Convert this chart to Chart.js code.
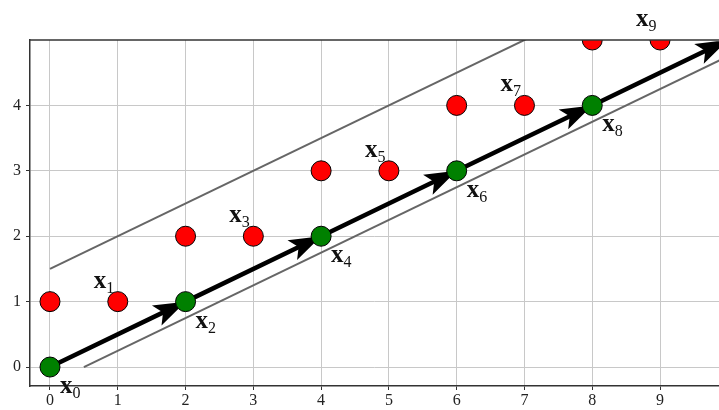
<!DOCTYPE html>
<html>
<head>
<meta charset="utf-8">
<script src="https://cdn.jsdelivr.net/npm/chart.js@4"></script>
<style>
	html, body { margin: 0; padding: 0; background: #ffffff; }
	#wrap { width: 719px; height: 410px; }
</style>
</head>
<body>
<div id="wrap"><canvas id="chart" width="719" height="410"></canvas></div>
<script>
// Data
const redX = [0, 1, 2, 3, 4, 5, 6, 7, 8, 9];
const redY = [1, 1, 2, 2, 3, 3, 4, 4, 5, 5];
const greenX = [0, 2, 4, 6, 8];
const greenY = [0, 1, 2, 3, 4];
const pathX = [0, 2, 4, 6, 8, 10];
const pathY = [0, 1, 2, 3, 4, 5];
const upperX = [0, 10];
const upperY = [1.5, 6.5];
const lowerX = [0.5, 10];
const lowerY = [0, 4.75];
const xTicks = [0, 1, 2, 3, 4, 5, 6, 7, 8, 9];
const yTicks = [0, 1, 2, 3, 4];
// subscripts of the point labels (even: green point, odd: red point)
const labelNames = ['0', '1', '2', '3', '4', '5', '6', '7', '8', '9'];

function toPoints(xs, ys) {
	return xs.map((x, i) => ({ x: x, y: ys[i] }));
}

// Arrowheads at the end of each path segment
const arrowHeads = {
	id: 'arrowHeads',
	afterDatasetDraw(chart, args) {
		if (args.index !== 2) return;
		const ctx = chart.ctx;
		const xs = chart.scales.x, ys = chart.scales.y;
		const area = chart.chartArea;
		ctx.save();
		ctx.beginPath();
		ctx.rect(area.left, area.top, area.right - area.left, area.bottom - area.top);
		ctx.clip();
		ctx.fillStyle = '#000000';
		for (let i = 1; i < pathX.length; i++) {
			const x0 = xs.getPixelForValue(pathX[i - 1]), y0 = ys.getPixelForValue(pathY[i - 1]);
			const x1 = xs.getPixelForValue(pathX[i]), y1 = ys.getPixelForValue(pathY[i]);
			const a = Math.atan2(y1 - y0, x1 - x0);
			const len = 32, half = 11;
			const bx = x1 - len * Math.cos(a), by = y1 - len * Math.sin(a);
			const ix = x1 - (len - 7) * Math.cos(a), iy = y1 - (len - 7) * Math.sin(a);
			ctx.beginPath();
			ctx.moveTo(x1, y1);
			ctx.lineTo(bx + half * Math.sin(a), by - half * Math.cos(a));
			ctx.lineTo(ix, iy);
			ctx.lineTo(bx - half * Math.sin(a), by + half * Math.cos(a));
			ctx.closePath();
			ctx.fill();
		}
		ctx.restore();
	}
};

// Top spine and point labels
const extras = {
	id: 'extras',
	afterDraw(chart) {
		const ctx = chart.ctx;
		const area = chart.chartArea;
		const xs = chart.scales.x, ys = chart.scales.y;
		ctx.save();
		ctx.strokeStyle = '#333333';
		ctx.lineWidth = 1.5;
		ctx.beginPath();
		ctx.moveTo(area.left, area.top);
		ctx.lineTo(area.right, area.top);
		ctx.stroke();

		ctx.fillStyle = '#111111';
		ctx.textBaseline = 'alphabetic';
		labelNames.forEach((name, i) => {
			let px, py;
			if (i % 2 === 0) {
				px = xs.getPixelForValue(greenX[i / 2]) + 10;
				py = ys.getPixelForValue(greenY[i / 2]) + 26;
			} else {
				px = xs.getPixelForValue(redX[i]) - 24;
				py = ys.getPixelForValue(redY[i]) - 14;
			}
			ctx.font = 'bold 25px "Liberation Serif"';
			ctx.fillText('x', px, py);
			const w = ctx.measureText('x').width;
			ctx.font = '16px "Liberation Serif"';
			ctx.fillText(name, px + w, py + 5);
		});
		ctx.restore();
	}
};

const ctx = document.getElementById('chart').getContext('2d');
new Chart(ctx, {
	type: 'scatter',
	data: {
		datasets: [
			{
				label: 'red',
				data: toPoints(redX, redY),
				backgroundColor: '#ff0000',
				borderColor: '#000000',
				borderWidth: 1,
				pointRadius: 10,
				clip: 0,
				order: 0
			},
			{
				label: 'green',
				data: toPoints(greenX, greenY),
				backgroundColor: '#008000',
				borderColor: '#000000',
				borderWidth: 1,
				pointRadius: 10,
				clip: 0,
				order: 0
			},
			{
				label: 'path',
				data: toPoints(pathX, pathY),
				showLine: true,
				borderColor: '#000000',
				borderWidth: 4.5,
				pointRadius: 0,
				clip: 0,
				order: 1
			},
			{
				label: 'upper',
				data: toPoints(upperX, upperY),
				showLine: true,
				borderColor: '#666666',
				borderWidth: 2,
				pointRadius: 0,
				clip: 0,
				order: 2
			},
			{
				label: 'lower',
				data: toPoints(lowerX, lowerY),
				showLine: true,
				borderColor: '#666666',
				borderWidth: 2,
				pointRadius: 0,
				clip: 0,
				order: 2
			}
		]
	},
	options: {
		responsive: false,
		animation: false,
		layout: { autoPadding: false, padding: { top: 40, right: 0, left: 0, bottom: 0 } },
		plugins: {
			legend: { display: false },
			tooltip: { enabled: false }
		},
		scales: {
			x: {
				type: 'linear',
				min: -0.295,
				max: 9.87,
				afterBuildTicks: (scale) => { scale.ticks = xTicks.map(v => ({ value: v })); },
				afterFit: (scale) => {
					scale.height = 24;
					scale.paddingLeft = 0;
					scale.paddingRight = 0;
				},
				ticks: {
					color: '#222222',
					font: { family: 'Liberation Serif', size: 16 },
					padding: 1,
					maxRotation: 0
				},
				grid: {
					color: '#c8c8c8',
					lineWidth: 1,
					tickLength: 4,
					tickColor: '#333333'
				},
				border: { display: true, color: '#333333', width: 1.5 }
			},
			y: {
				type: 'linear',
				min: -0.29,
				max: 5,
				afterBuildTicks: (scale) => { scale.ticks = yTicks.map(v => ({ value: v })); },
				afterFit: (scale) => {
					scale.width = 30;
					scale.paddingTop = 0;
					scale.paddingBottom = 0;
				},
				ticks: {
					color: '#222222',
					font: { family: 'Liberation Serif', size: 16 },
					padding: 5
				},
				grid: {
					color: '#c8c8c8',
					lineWidth: 1,
					tickLength: 4,
					tickColor: '#333333'
				},
				border: { display: true, color: '#333333', width: 1.5 }
			}
		}
	},
	plugins: [arrowHeads, extras]
});
</script>
</body>
</html>
